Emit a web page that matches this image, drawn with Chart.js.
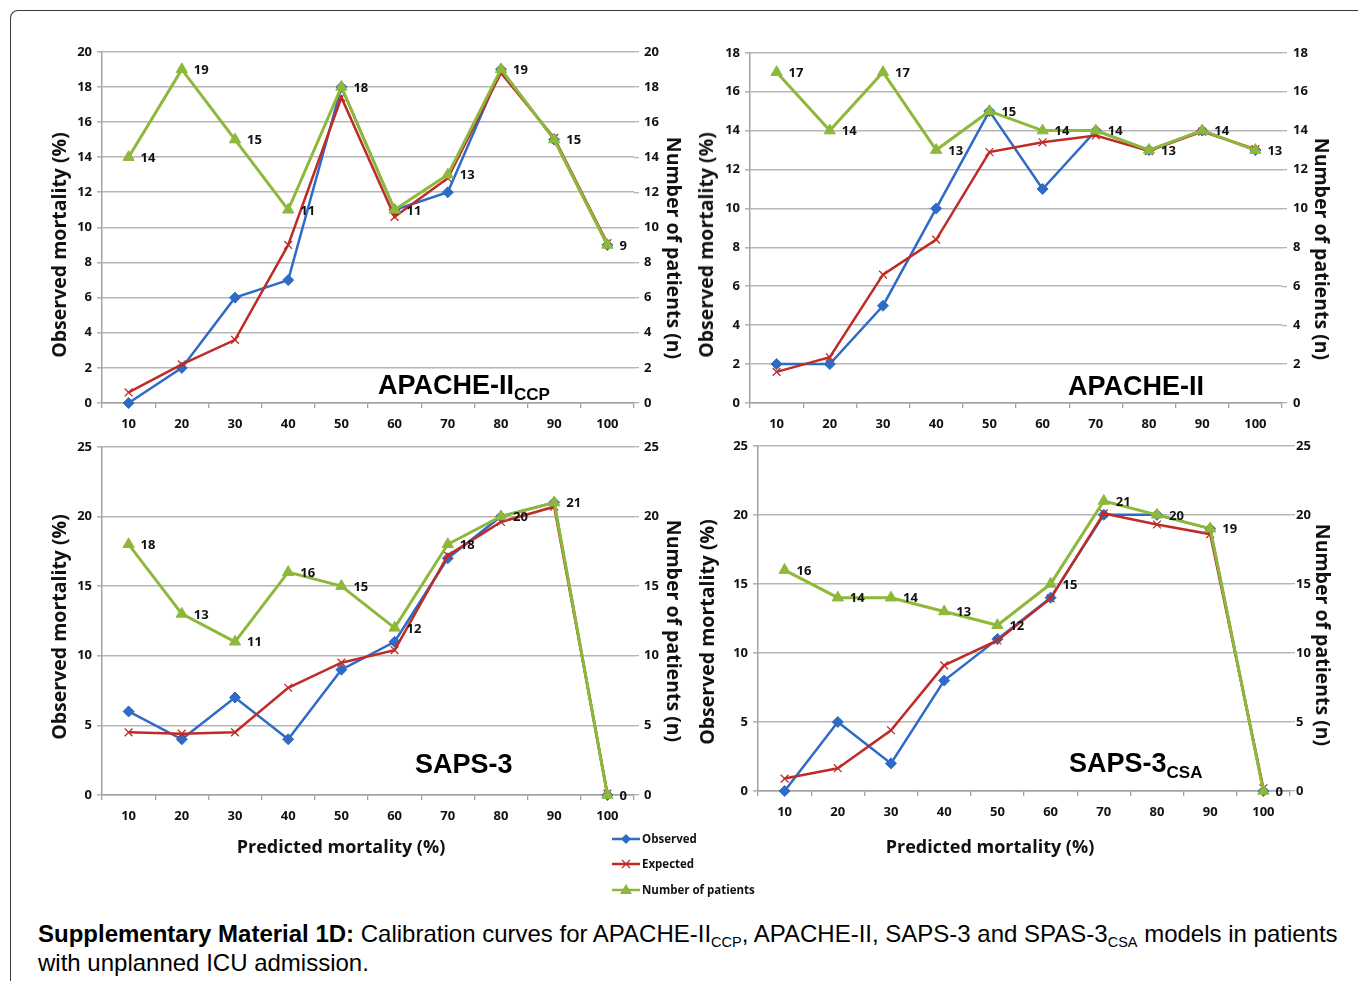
<!DOCTYPE html>
<html><head><meta charset="utf-8">
<script src="https://cdn.jsdelivr.net/npm/chart.js@4.4.1/dist/chart.umd.min.js"></script>
<style>
html,body{margin:0;padding:0;background:#fff;width:1358px;height:981px;overflow:hidden;position:relative;}
#frame{position:absolute;left:10px;top:10px;width:1420px;height:1020px;border-left:1.5px solid #3a3a3a;border-top:1.5px solid #3a3a3a;border-top-left-radius:8px;box-sizing:border-box;}
canvas{position:absolute;}
.t{position:absolute;white-space:nowrap;font-family:'Open Sans',sans-serif;font-weight:bold;color:#111;}
.vl{transform:translate(-50%,-50%) rotate(-90deg);font-size:19.5px;line-height:20px;}
.vr{transform:translate(-50%,-50%) rotate(90deg);font-size:19.5px;line-height:20px;}
.hx{transform:translate(-50%,-50%);font-size:18px;line-height:20px;}
.ct{position:absolute;white-space:nowrap;font-family:'Liberation Sans',Arial,sans-serif;font-weight:bold;font-size:27px;line-height:27px;color:#000;}
.ct sub{font-size:17px;vertical-align:-6px;line-height:0;}
#legend{position:absolute;left:600px;top:826px;}
#legend text{font-family:'Open Sans',sans-serif;font-weight:bold;font-size:11.5px;fill:#111;}
#caption{position:absolute;left:38px;top:919px;font-family:'Liberation Sans',Arial,sans-serif;font-size:24px;line-height:29px;color:#000;white-space:nowrap;}
#caption sub{font-size:14.5px;vertical-align:-5px;line-height:0;}
</style></head>
<body>
<div id="frame"></div>
<canvas id="c1"></canvas><canvas id="c2"></canvas><canvas id="c3"></canvas><canvas id="c4"></canvas>

<div class="t vl" style="left:59px;top:245px;">Observed mortality (%)</div>
<div class="t vr" style="left:674px;top:248px;">Number of patients (n)</div>
<div class="t vl" style="left:706px;top:245px;">Observed mortality (%)</div>
<div class="t vr" style="left:1322px;top:249px;">Number of patients (n)</div>
<div class="t vl" style="left:59px;top:627px;">Observed mortality (%)</div>
<div class="t vr" style="left:674px;top:631px;">Number of patients (n)</div>
<div class="t vl" style="left:707px;top:632px;">Observed mortality (%)</div>
<div class="t vr" style="left:1323px;top:635px;">Number of patients (n)</div>
<div class="t hx" style="left:341px;top:846px;">Predicted mortality (%)</div>
<div class="t hx" style="left:990px;top:846px;">Predicted mortality (%)</div>

<div class="ct" style="left:378px;top:372px;">APACHE-II<sub>CCP</sub></div>
<div class="ct" style="left:1068px;top:373px;">APACHE-II</div>
<div class="ct" style="left:415px;top:751px;">SAPS-3</div>
<div class="ct" style="left:1069px;top:750px;">SAPS-3<sub>CSA</sub></div>

<svg id="legend" width="170" height="76">
  <line x1="12" y1="13" x2="40" y2="13" stroke="#2E6BC6" stroke-width="2.5"/>
  <polygon points="26,8 31,13 26,18 21,13" fill="#2E6BC6"/>
  <text x="42" y="17">Observed</text>
  <line x1="12" y1="38" x2="40" y2="38" stroke="#BF2B26" stroke-width="2.5"/>
  <path d="M22,34 L30,42 M30,34 L22,42" stroke="#BF2B26" stroke-width="1.3"/>
  <text x="42" y="42">Expected</text>
  <line x1="12" y1="64" x2="40" y2="64" stroke="#8DB83A" stroke-width="2.5"/>
  <polygon points="26,58 32,68 20,68" fill="#8DB83A"/>
  <text x="42" y="68">Number of patients</text>
</svg>

<div id="caption"><b>Supplementary Material 1D:</b> Calibration curves for APACHE-II<sub>CCP</sub>, APACHE-II, SAPS-3 and SPAS-3<sub>CSA</sub> models in patients<br>with unplanned ICU admission.</div>

<script>
// ---- data ----
const categories = ['10','20','30','40','50','60','70','80','90','100'];

const apacheCcpObserved = [0, 2, 6, 7, 18, 11, 12, 19, 15, 9];
const apacheCcpExpected = [0.6, 2.2, 3.6, 9.0, 17.4, 10.6, 12.8, 18.8, 15.1, 9.1];
const apacheCcpPatients = [14, 19, 15, 11, 18, 11, 13, 19, 15, 9];

const apacheObserved = [2, 2, 5, 10, 15, 11, 14, 13, 14, 13];
const apacheExpected = [1.6, 2.35, 6.6, 8.4, 12.9, 13.4, 13.75, 12.95, 13.95, 13.05];
const apachePatients = [17, 14, 17, 13, 15, 14, 14, 13, 14, 13];

const saps3Observed = [6, 4, 7, 4, 9, 11, 17, 20, 21, 0];
const saps3Expected = [4.5, 4.4, 4.5, 7.7, 9.5, 10.4, 17.2, 19.6, 20.7, 0.1];
const saps3Patients = [18, 13, 11, 16, 15, 12, 18, 20, 21, 0];

const saps3CsaObserved = [0, 5, 2, 8, 11, 14, 20, 20, 19, 0];
const saps3CsaExpected = [0.9, 1.65, 4.4, 9.1, 10.9, 13.95, 20.1, 19.3, 18.6, 0.2];
const saps3CsaPatients = [16, 14, 14, 13, 12, 15, 21, 20, 19, 0];

const seriesLabels = ['Observed', 'Expected', 'Number of patients'];

// ---- styles ----
const BLUE = '#2E6BC6', RED = '#BF2B26', GREEN = '#8DB83A';
const GRID = '#b5b5b5', AXIS = '#a2a2a2';
const tickFont = {family: "'Open Sans', sans-serif", weight: 'bold', size: 13};

const valueLabels = {
  id: 'valueLabels',
  afterDatasetsDraw(chart) {
    const meta = chart.getDatasetMeta(2);
    const vals = chart.data.datasets[2].data;
    const ctx = chart.ctx;
    ctx.save();
    ctx.font = "bold 13px 'Open Sans', sans-serif";
    ctx.fillStyle = '#111';
    ctx.textAlign = 'left';
    ctx.textBaseline = 'middle';
    meta.data.forEach((pt, i) => ctx.fillText(String(vals[i]), pt.x + 12, pt.y + 1));
    ctx.restore();
  }
};

function makeChart(id, box, yMax, yStep, obs, exp, pat, rightPad) {
  const cv = document.getElementById(id);
  const SIDE = 62, TOP = 12, BOTTOM = 40;
  cv.width = box.r - box.l + 2 * SIDE;
  cv.height = box.b - box.t + TOP + BOTTOM;
  cv.style.left = (box.l - SIDE) + 'px';
  cv.style.top = (box.t - TOP) + 'px';
  new Chart(cv, {
    type: 'line',
    data: {
      labels: categories,
      datasets: [
        {label: seriesLabels[0], data: obs, yAxisID: 'y', borderColor: BLUE, backgroundColor: BLUE,
         borderWidth: 2.5, pointStyle: 'rectRot', pointRadius: 5.5, pointBorderWidth: 1, order: 3, clip: false},
        {label: seriesLabels[1], data: exp, yAxisID: 'y', borderColor: RED, backgroundColor: RED,
         borderWidth: 2.5, pointStyle: 'crossRot', pointRadius: 5.5, pointBorderWidth: 1.3, order: 2, clip: false},
        {label: seriesLabels[2], data: pat, yAxisID: 'y1', borderColor: GREEN, backgroundColor: GREEN,
         borderWidth: 3, pointStyle: 'triangle', pointRadius: 6.5, pointBorderWidth: 1, order: 1, clip: false}
      ]
    },
    options: {
      responsive: false, animation: false, devicePixelRatio: 1,
      layout: {padding: {top: TOP, left: 0, right: 0, bottom: 0}},
      plugins: {legend: {display: false}, tooltip: {enabled: false}},
      scales: {
        x: {
          offset: true,
          grid: {offset: true, drawOnChartArea: false, drawTicks: true, tickLength: 5, color: AXIS, lineWidth: 1.3},
          border: {display: true, color: AXIS, width: 1.5},
          ticks: {font: tickFont, color: '#111', padding: 8, maxRotation: 0, autoSkip: false},
          afterFit: s => { s.height = BOTTOM; }
        },
        y: {
          position: 'left', min: 0, max: yMax,
          ticks: {stepSize: yStep, font: tickFont, color: '#111', padding: 5},
          grid: {color: GRID, lineWidth: 1.6, drawTicks: true, tickLength: 5},
          border: {display: true, color: AXIS, width: 1.5},
          afterFit: s => { s.width = SIDE; }
        },
        y1: {
          position: 'right', min: 0, max: yMax,
          ticks: {stepSize: yStep, font: tickFont, color: '#111', padding: rightPad},
          grid: {drawOnChartArea: false, drawTicks: true, tickLength: 5, color: GRID, lineWidth: 1.3},
          border: {display: false},
          afterFit: s => { s.width = SIDE; }
        }
      }
    },
    plugins: [valueLabels]
  });
}

makeChart('c1', {l: 102, r: 634, t: 51, b: 403}, 20, 2, apacheCcpObserved, apacheCcpExpected, apacheCcpPatients, 5);
makeChart('c2', {l: 750, r: 1282, t: 51, b: 403}, 18, 2, apacheObserved, apacheExpected, apachePatients, 6);
makeChart('c3', {l: 102, r: 634, t: 446, b: 795}, 25, 5, saps3Observed, saps3Expected, saps3Patients, 5);
makeChart('c4', {l: 758, r: 1290, t: 445, b: 791}, 25, 5, saps3CsaObserved, saps3CsaExpected, saps3CsaPatients, 1);
</script>
</body></html>
